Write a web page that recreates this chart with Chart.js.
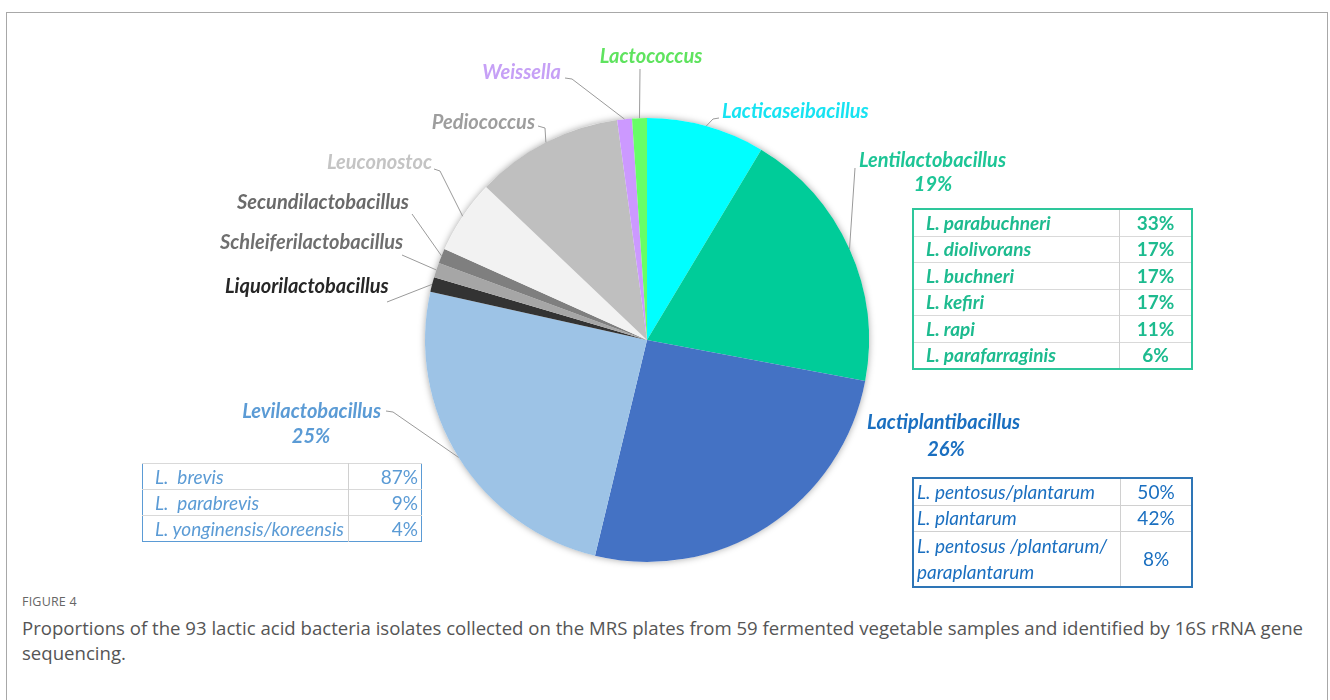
<!DOCTYPE html>
<html>
<head>
<meta charset="utf-8">
<script src="https://cdn.jsdelivr.net/npm/chart.js@4"></script>
<style>
  body { margin: 0; background: #fff; width: 1330px; height: 700px; overflow: hidden; position: relative; font-family: Lato, sans-serif; }
  #frame { position: absolute; left: 6px; top: 12px; width: 1322px; height: 720px; border: 1px solid #a8a8a8; box-sizing: border-box; }
  #chartPie { position: absolute; left: 0; top: 0; }
  table.sub { position: absolute; border-collapse: collapse; font-family: Lato, sans-serif; font-size: 19px; }
  table.sub td { padding: 0; height: 25px; line-height: 20px; }
  table.sub td.nm { font-style: italic; }
  #tabLenti { left: 912px; top: 208px; width: 281px; border: 2px solid #2ec79b; color: #1dbb8f; font-weight: bold; }
  #tabLenti td { border-top: 1px solid #d9d9d9; height: 25.5px; }
  #tabLenti td.nm { padding-left: 12px; width: 193px; border-right: 1px solid #d0d0d0; }
  #tabLenti td.pc { text-align: center; }
  #tabLacti { left: 912px; top: 477px; width: 281px; border: 2px solid #2e75b6; color: #1a6fc0; }
  #tabLacti td { border-top: 1px solid #d0d0d0; height: 25.5px; }
  #tabLacti tr:last-child td { height: 54px; line-height: 26px; }
  #tabLacti td.nm { padding-left: 3px; width: 203px; border-right: 1px solid #d0d0d0; }
  #tabLacti td.pc { text-align: center; }
  #tabLevi { left: 142px; top: 463px; width: 280px; border: 1.5px solid #5b9bd5; color: #5b9bd5; }
  #tabLevi td { border-top: 1px solid #d9d9d9; height: 25px; }
  #tabLevi td.nm { padding-left: 12px; width: 193px; border-right: 1px solid #d0d0d0; white-space: pre; }
  #tabLevi td.pc { text-align: right; padding-right: 3px; }
  #figLabel { position: absolute; left: 22px; top: 593px; font-family: "Open Sans", sans-serif; font-size: 12.5px; color: #666; letter-spacing: 0.2px; }
  #caption { position: absolute; left: 22px; top: 615px; width: 1295px; font-family: "Open Sans", sans-serif; font-size: 18.6px; line-height: 25px; color: #555; }
</style>
</head>
<body>
<div id="frame"></div>
<canvas id="chartPie" width="1330" height="590"></canvas>
<table class="sub" id="tabLenti"></table>
<table class="sub" id="tabLacti"></table>
<table class="sub" id="tabLevi"></table>
<div id="figLabel">FIGURE 4</div>
<div id="caption">Proportions of the 93 lactic acid bacteria isolates collected on the MRS plates from 59 fermented vegetable samples and identified by 16S rRNA gene sequencing.</div>
<script>
// genera, clockwise from 12 o'clock, and number of isolates (93 in total)
const genera = [
  "Lacticaseibacillus",
  "Lentilactobacillus",
  "Lactiplantibacillus",
  "Levilactobacillus",
  "Liquorilactobacillus",
  "Schleiferilactobacillus",
  "Secundilactobacillus",
  "Leuconostoc",
  "Pediococcus",
  "Weissella",
  "Lactococcus",
];
const isolates = [8, 18, 24, 23, 1, 1, 1, 5, 10, 1, 1];

// species breakdown inside the three big genera
const lentiSpecies = ["L. parabuchneri", "L. diolivorans", "L. buchneri", "L. kefiri", "L. rapi", "L. parafarraginis"];
const lentiShares = [33, 17, 17, 17, 11, 6];
const lactiSpecies = ["L. pentosus/plantarum", "L. plantarum", "L. pentosus /plantarum/<br>paraplantarum"];
const lactiShares = [50, 42, 8];
const leviSpecies = ["L.  brevis", "L.  parabrevis", "L. yonginensis/koreensis"];
const leviShares = [87, 9, 4];

const sliceColors = ["#00ffff", "#00cc99", "#4472c4", "#9dc3e6", "#333333", "#a6a6a6", "#7f7f7f", "#f2f2f2", "#bfbfbf", "#cc99ff", "#66ff66"];
const labelColors = ["#17e3f2", "#1dc596", "#1a6fc0", "#5b9bd5", "#262626", "#6f6f6f", "#6a6a6a", "#c4c4c4", "#9e9e9e", "#c6a0f6", "#5fe35f"];

// where each genus name sits, and the bends of its leader line (the last point is the slice edge)
const callouts = [
  { x: 722, y: 112, align: "left", line: [[719, 118], [713, 119]] },
  { x: 859, y: 161, align: "left", line: [[855, 168]], pct: [933, 185] },
  { x: 867, y: 423, align: "left", line: null, pct: [946, 450] },
  { x: 381, y: 412, align: "right", line: [[386, 411], [393, 412]], pct: [311, 437] },
  { x: 225, y: 287, align: "left", line: [[387, 302]] },
  { x: 220, y: 243, align: "left", line: [[402, 255]] },
  { x: 237, y: 203, align: "left", line: [[412, 214]] },
  { x: 432, y: 163, align: "right", line: [[434, 169], [440, 171]] },
  { x: 535, y: 123, align: "right", line: [[538, 126], [545, 128]] },
  { x: 561, y: 73, align: "right", line: [[565, 78], [572, 79]] },
  { x: 651, y: 57, align: "center", line: [[640, 69]] },
];

const total = isolates.reduce((a, b) => a + b, 0);

function fillTable(id, names, shares) {
  const rows = names.map((n, i) => `<tr><td class="nm">${n}</td><td class="pc">${shares[i]}%</td></tr>`);
  document.getElementById(id).innerHTML = rows.join("");
}
fillTable("tabLenti", lentiSpecies, lentiShares);
fillTable("tabLacti", lactiSpecies, lactiShares);
fillTable("tabLevi", leviSpecies, leviShares);

const calloutPlugin = {
  id: "callouts",
  beforeDatasetsDraw(chart) {
    // soft shadow under the whole pie
    const a = chart.getDatasetMeta(0).data[0];
    const ctx = chart.ctx;
    ctx.save();
    ctx.shadowColor = "rgba(0,0,0,0.35)";
    ctx.shadowBlur = 7;
    ctx.beginPath();
    ctx.arc(a.x, a.y, a.outerRadius, 0, Math.PI * 2);
    ctx.fillStyle = "#fff";
    ctx.fill();
    ctx.restore();
  },
  afterDatasetsDraw(chart) {
    const ctx = chart.ctx;
    const arcs = chart.getDatasetMeta(0).data;
    ctx.save();
    arcs.forEach((arc, i) => {
      const c = callouts[i];
      const p = arc.getProps(["x", "y", "startAngle", "endAngle", "outerRadius"], true);
      const mid = (p.startAngle + p.endAngle) / 2;
      const ex = p.x + Math.cos(mid) * p.outerRadius;
      const ey = p.y + Math.sin(mid) * p.outerRadius;
      if (c.line) {
        ctx.strokeStyle = "#9a9a9a";
        ctx.lineWidth = 1;
        ctx.beginPath();
        ctx.moveTo(c.line[0][0], c.line[0][1]);
        c.line.slice(1).forEach((pt) => ctx.lineTo(pt[0], pt[1]));
        ctx.lineTo(ex, ey);
        ctx.stroke();
      }
      ctx.font = "italic bold 20px Lato";
      ctx.fillStyle = labelColors[i];
      ctx.textAlign = c.align;
      ctx.textBaseline = "middle";
      ctx.fillText(genera[i], c.x, c.y);
      if (c.pct) {
        ctx.textAlign = "center";
        ctx.fillText(Math.round((isolates[i] / total) * 100) + "%", c.pct[0], c.pct[1]);
      }
    });
    ctx.restore();
  },
};

const chart = document.getElementById("chartPie").getContext("2d");
new Chart(chart, {
  type: "pie",
  data: {
    labels: genera,
    datasets: [
      {
        data: isolates,
        backgroundColor: sliceColors,
        borderWidth: 0,
      },
    ],
  },
  options: {
    responsive: false,
    animation: false,
    layout: { padding: { left: 425, right: 461, top: 118, bottom: 28 } },
    plugins: {
      legend: { display: false },
      tooltip: { enabled: false },
    },
  },
  plugins: [calloutPlugin],
});
</script>
</body>
</html>
